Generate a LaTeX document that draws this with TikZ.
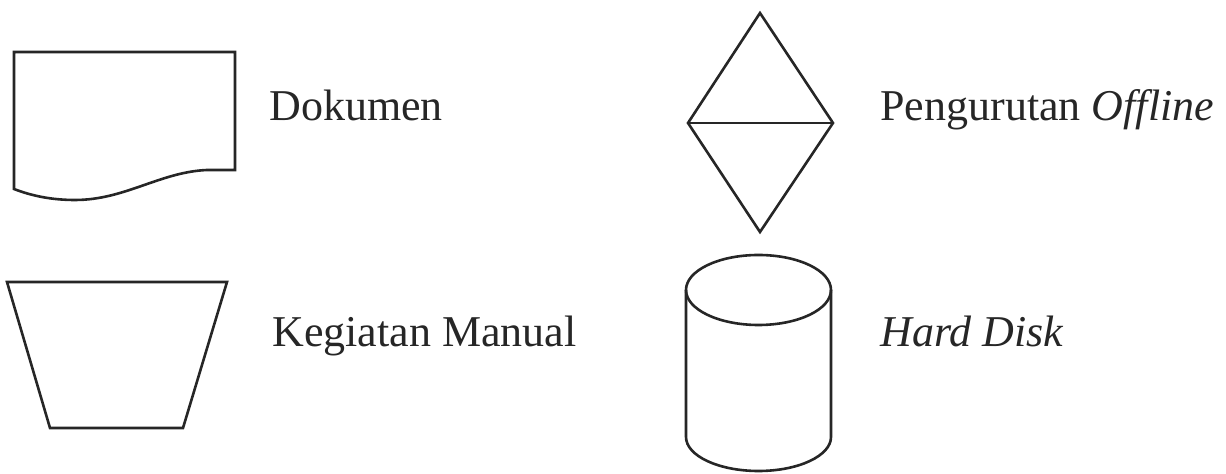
\documentclass[tikz,border=0pt]{standalone}
\usepackage{fontspec}
\setmainfont{Liberation Serif}
\usetikzlibrary{positioning}

\begin{document}
\begin{tikzpicture}[
  x=0.5pt, y=-0.5pt,
  symbol/.style={draw=black!85,line width=1.3pt,line join=miter},
  caption/.style={anchor=base west,inner sep=0pt,text=black!85,font=\fontsize{22}{26}\selectfont},
]
\useasboundingbox (0,0) rectangle (1226,474);

% left column
\draw[symbol] (235,170) -- (235,52) -- (14,52) -- (14,189)
  .. controls (32,196) and (52,200) .. (75,200)
  .. controls (125,200) and (160,172) .. (207,170) -- cycle;
\node[caption] (dok) at (269,121) {Dokumen};

\draw[symbol] (7,282) -- (227,282) -- (183,428) -- (50,428) -- cycle;
\node[caption] (manual) at (272,347) {Kegiatan Manual};

% right column
\draw[symbol] (760,13) -- (833,123) -- (760,232) -- (688,123) -- cycle;
\draw[symbol] (688,123) -- (833,123);
\node[caption] (urut) at (880,121) {Pengurutan \textit{Offline}};

\draw[symbol] (758.5,290) ellipse [x radius=72.5,y radius=35];
\draw[symbol] (686,290) -- (686,437) arc[start angle=180,end angle=0,x radius=72.5,y radius=34] -- (831,290);
\node[caption] (hdd) at (880,347) {\textit{Hard Disk}};
\end{tikzpicture}
\end{document}
